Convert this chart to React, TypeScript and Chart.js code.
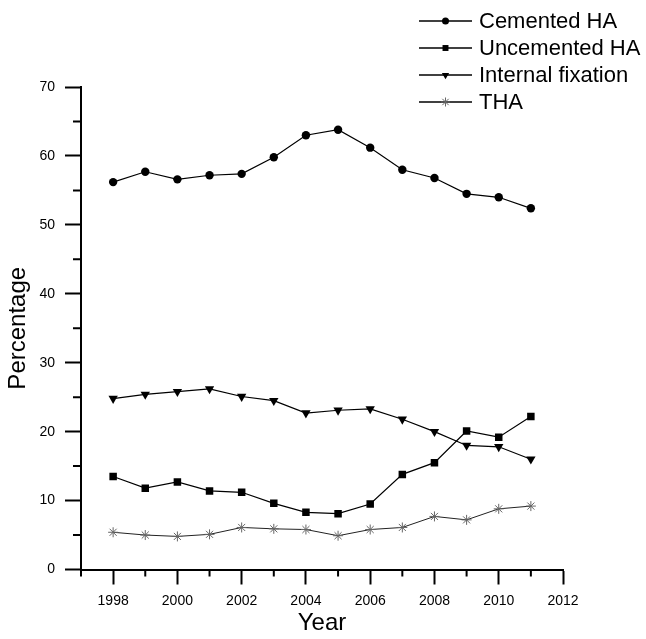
import React, { useEffect, useRef } from 'react';
import { Chart, registerables } from 'chart.js';

Chart.register(...registerables);

const years = [1998, 1999, 2000, 2001, 2002, 2003, 2004, 2005, 2006, 2007, 2008, 2009, 2010, 2011];
const cementedHA = [56.2, 57.7, 56.6, 57.2, 57.4, 59.8, 63.0, 63.8, 61.2, 58.0, 56.8, 54.5, 54.0, 52.4];
const uncementedHA = [13.5, 11.8, 12.7, 11.4, 11.2, 9.6, 8.3, 8.1, 9.5, 13.8, 15.5, 20.1, 19.2, 22.2];
const internalFixation = [24.8, 25.4, 25.8, 26.2, 25.1, 24.5, 22.7, 23.1, 23.3, 21.8, 20.0, 18.0, 17.8, 16.0];
const tha = [5.4, 5.0, 4.8, 5.1, 6.1, 5.9, 5.8, 4.9, 5.8, 6.1, 7.7, 7.2, 8.8, 9.2];
const seriesNames = ['Cemented HA', 'Uncemented HA', 'Internal fixation', 'THA'];
const xMin = 1997;
const xMax = 2012;
const yMin = 0;
const yMax = 70;

const FONT = '"Liberation Sans", Arial, Helvetica, sans-serif';

function drawMarker(ctx: CanvasRenderingContext2D, style: string, x: number, y: number, r: number, color: string) {
  ctx.save();
  ctx.fillStyle = color;
  ctx.strokeStyle = color;
  ctx.lineWidth = 1;
  ctx.beginPath();
  if (style === 'circle') {
    ctx.arc(x, y, r, 0, Math.PI * 2);
    ctx.fill();
  } else if (style === 'rect') {
    const s = r * Math.SQRT1_2;
    ctx.rect(x - s, y - s, 2 * s, 2 * s);
    ctx.fill();
  } else if (style === 'triangleDown') {
    const a = Math.PI / 6;
    ctx.moveTo(x, y + r);
    ctx.lineTo(x - Math.cos(a) * r, y - Math.sin(a) * r);
    ctx.lineTo(x + Math.cos(a) * r, y - Math.sin(a) * r);
    ctx.closePath();
    ctx.fill();
  } else if (style === 'star') {
    for (let k = 0; k < 4; k++) {
      const ang = (k * Math.PI) / 4;
      ctx.moveTo(x + Math.cos(ang) * r, y + Math.sin(ang) * r);
      ctx.lineTo(x - Math.cos(ang) * r, y - Math.sin(ang) * r);
    }
    ctx.stroke();
  }
  ctx.restore();
}

const legendStyles = ['circle', 'rect', 'triangleDown', 'star'];
const legendMarkerColors = ['#000', '#000', '#000', '#666'];

const legendPlugin = {
  id: 'customLegend',
  afterDraw(chart: any) {
    const ctx: CanvasRenderingContext2D = chart.ctx;
    ctx.save();
    chart.data.datasets.forEach((ds: any, i: number) => {
      const y = 21 + i * 27;
      ctx.beginPath();
      ctx.strokeStyle = '#000';
      ctx.lineWidth = 1.5;
      ctx.moveTo(419, y);
      ctx.lineTo(472, y);
      ctx.stroke();
      drawMarker(ctx, legendStyles[i], 445.5, y, i === 3 ? 4.5 : i === 0 ? 3.5 : 4.2, legendMarkerColors[i]);
      ctx.fillStyle = '#000';
      ctx.font = `22px ${FONT}`;
      ctx.textBaseline = 'middle';
      ctx.textAlign = 'left';
      ctx.fillText(ds.label, 479, y + 1);
    });
    ctx.restore();
  },
};

const minorTicksPlugin = {
  id: 'minorTicks',
  afterDraw(chart: any) {
    const { ctx, scales, chartArea } = chart;
    const x = scales.x;
    const y = scales.y;
    ctx.save();
    ctx.strokeStyle = '#000';
    ctx.lineWidth = 2;
    ctx.beginPath();
    for (let v = xMin; v <= xMax; v++) {
      if (v % 2 !== 0) {
        const px = x.getPixelForValue(v);
        ctx.moveTo(px, chartArea.bottom);
        ctx.lineTo(px, chartArea.bottom + 7);
      }
    }
    for (let v = yMin + 5; v < yMax; v += 10) {
      const py = y.getPixelForValue(v);
      ctx.moveTo(chartArea.left, py);
      ctx.lineTo(chartArea.left - 8, py);
    }
    ctx.stroke();
    ctx.restore();
  },
};

export default function App() {
  const canvasRef = useRef<HTMLCanvasElement | null>(null);

  useEffect(() => {
    if (!canvasRef.current) return;
    const toXY = (arr: number[]) => arr.map((v, i) => ({ x: years[i], y: v }));
    const chart = new Chart(canvasRef.current, {
      type: 'line',
      data: {
        datasets: [
          {
            label: seriesNames[0],
            data: toXY(cementedHA),
            borderColor: '#000',
            borderWidth: 1.2,
            pointStyle: 'circle',
            pointRadius: 4.2,
            pointBackgroundColor: '#000',
            pointBorderColor: '#000',
            pointBorderWidth: 0,
          },
          {
            label: seriesNames[1],
            data: toXY(uncementedHA),
            borderColor: '#000',
            borderWidth: 1.2,
            pointStyle: 'rect',
            pointRadius: 5.3,
            pointBackgroundColor: '#000',
            pointBorderColor: '#000',
            pointBorderWidth: 0,
          },
          {
            label: seriesNames[2],
            data: toXY(internalFixation),
            borderColor: '#000',
            borderWidth: 1.2,
            pointStyle: 'triangle',
            pointRotation: 180,
            pointRadius: 5.4,
            pointBackgroundColor: '#000',
            pointBorderColor: '#000',
            pointBorderWidth: 0,
          },
          {
            label: seriesNames[3],
            data: toXY(tha),
            borderColor: '#222',
            borderWidth: 1,
            pointStyle: 'star',
            pointRadius: 5,
            pointBackgroundColor: '#666',
            pointBorderColor: '#666',
            pointBorderWidth: 1,
          },
        ],
      },
      options: {
        responsive: false,
        animation: false,
        devicePixelRatio: 1,
        layout: { padding: { top: 87, right: 83, left: 0, bottom: 0 } },
        plugins: {
          legend: { display: false },
          tooltip: { enabled: false },
        },
        scales: {
          x: {
            type: 'linear',
            min: xMin,
            max: xMax,
            afterFit: (scale: any) => {
              scale.height = 69.5;
            },
            border: { display: true, color: '#000', width: 2 },
            grid: {
              drawOnChartArea: false,
              drawTicks: true,
              tickLength: 15,
              tickWidth: 2,
              tickColor: (c: any) => (c.tick && c.tick.value % 2 === 0 ? '#000' : 'rgba(0,0,0,0)'),
            },
            ticks: {
              stepSize: 1,
              autoSkip: false,
              maxRotation: 0,
              padding: 8,
              color: '#000',
              font: { family: FONT, size: 14 },
              callback: (v: any) => (Number(v) % 2 === 0 ? String(v) : ''),
            },
            title: {
              display: true,
              text: 'Year',
              color: '#000',
              font: { family: FONT, size: 24 },
              padding: { top: 0, bottom: 1 },
            },
          },
          y: {
            type: 'linear',
            min: yMin,
            max: yMax,
            afterFit: (scale: any) => {
              scale.width = 81;
            },
            border: { display: true, color: '#000', width: 2 },
            grid: {
              drawOnChartArea: false,
              drawTicks: true,
              tickLength: 16,
              tickWidth: 2,
              tickColor: (c: any) => (c.tick && c.tick.value % 10 === 0 ? '#000' : 'rgba(0,0,0,0)'),
            },
            ticks: {
              stepSize: 5,
              autoSkip: false,
              padding: 10,
              color: '#000',
              font: { family: FONT, size: 14 },
              callback: (v: any) => (Number(v) % 10 === 0 ? String(v) : ''),
            },
            title: {
              display: true,
              text: 'Percentage',
              color: '#000',
              font: { family: FONT, size: 24 },
              padding: { top: 3.5, bottom: 0 },
            },
          },
        },
      },
      plugins: [legendPlugin, minorTicksPlugin],
    } as any);
    return () => chart.destroy();
  }, []);

  return (
    <div style={{ position: 'absolute', left: 0, top: 0, width: 646, height: 639, background: '#fff' }}>
      <canvas ref={canvasRef} width={646} height={639} style={{ display: 'block' }} />
    </div>
  );
}
